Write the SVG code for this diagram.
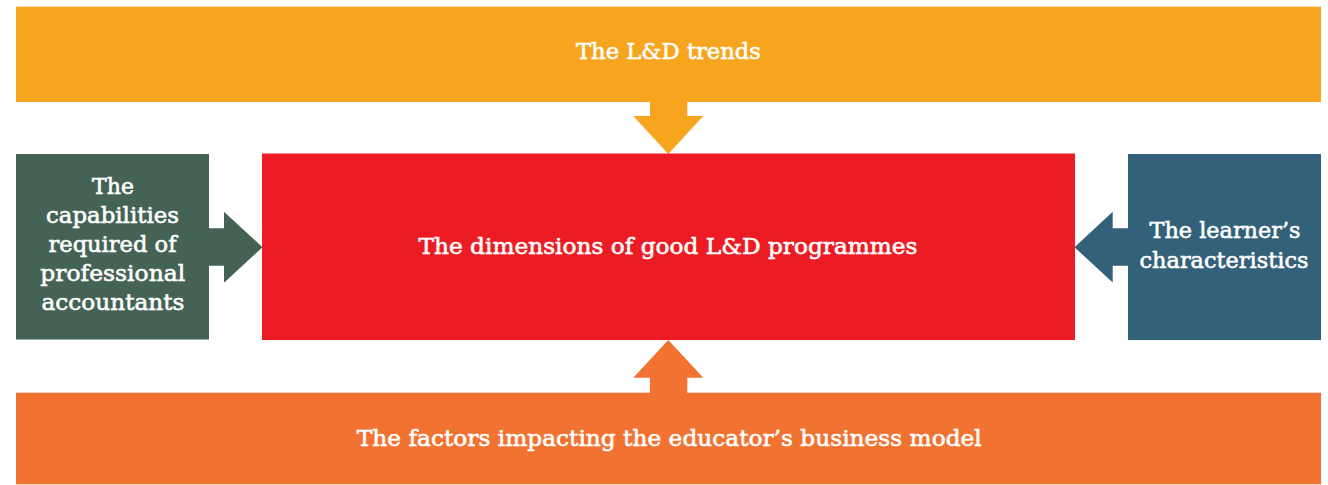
<svg xmlns="http://www.w3.org/2000/svg" width="1328" height="485" viewBox="0 0 1328 485">
<style>
.lbl{font-family:"DejaVu Serif","Liberation Serif",serif;font-weight:normal;font-size:22.5px;fill:#ffffff;stroke:#ffffff;stroke-width:0.6px;text-anchor:middle}
</style>
<rect x="0" y="0" width="1328" height="485" fill="#ffffff"/>
<g id="connectors">
<polygon points="650,101 687.3,101 687.3,116 703.3,116 668.3,154 633.3,116 650,116" fill="#F7A51E"/>
<polygon points="668.3,340 703.3,377.7 687.3,377.7 687.3,393.5 650,393.5 650,377.7 633.3,377.7" fill="#F27232"/>
<polygon points="208,228.3 224,228.3 224,211.7 262.5,247.2 224,282.7 224,265.7 208,265.7" fill="#456355"/>
<polygon points="1129,228.3 1112.7,228.3 1112.7,211.7 1074.5,247.2 1112.7,282.5 1112.7,265.7 1129,265.7" fill="#336179"/>
</g>
<g id="node-trends">
<rect x="16" y="6.7" width="1305" height="95.3" fill="#F7A51E"/>
<text class="lbl" x="668.5" y="59.3" textLength="185" lengthAdjust="spacingAndGlyphs">The L&amp;D trends</text>
</g>
<g id="node-capabilities">
<rect x="16" y="154" width="193" height="185.5" fill="#456355"/>
<text class="lbl" x="113" y="194" textLength="42" lengthAdjust="spacingAndGlyphs">The</text>
<text class="lbl" x="112.5" y="223" textLength="133" lengthAdjust="spacingAndGlyphs">capabilities</text>
<text class="lbl" x="112.5" y="252.3" textLength="128" lengthAdjust="spacingAndGlyphs">required of</text>
<text class="lbl" x="112.7" y="281" textLength="145" lengthAdjust="spacingAndGlyphs">professional</text>
<text class="lbl" x="113" y="310" textLength="143" lengthAdjust="spacingAndGlyphs">accountants</text>
</g>
<g id="node-dimensions">
<rect x="262" y="153.5" width="813" height="186.5" fill="#ED1C24"/>
<text class="lbl" x="668" y="253.5" textLength="499" lengthAdjust="spacingAndGlyphs">The dimensions of good L&amp;D programmes</text>
</g>
<g id="node-learner">
<rect x="1128" y="154" width="193" height="186" fill="#336179"/>
<text class="lbl" x="1225" y="238.3" textLength="151" lengthAdjust="spacingAndGlyphs">The learner’s</text>
<text class="lbl" x="1224" y="267.7" textLength="169" lengthAdjust="spacingAndGlyphs">characteristics</text>
</g>
<g id="node-factors">
<rect x="16" y="392.7" width="1305" height="91.6" fill="#F27232"/>
<text class="lbl" x="669.3" y="446" textLength="625" lengthAdjust="spacingAndGlyphs">The factors impacting the educator’s business model</text>
</g>
</svg>
